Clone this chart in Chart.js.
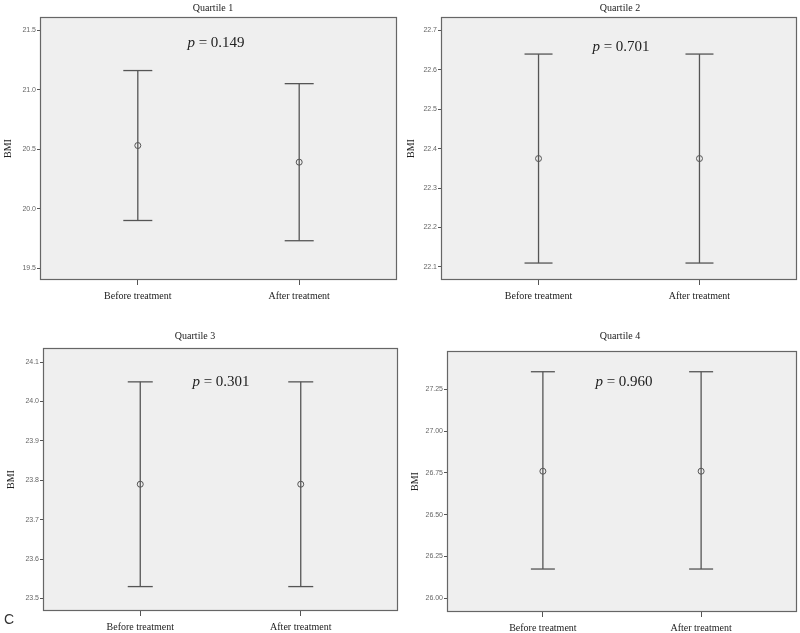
<!DOCTYPE html>
<html>
<head>
<meta charset="utf-8">
<script src="https://cdn.jsdelivr.net/npm/chart.js@4.4.1/dist/chart.umd.min.js"></script>
<style>
  html, body { margin: 0; padding: 0; background: #fff; }
  #wrap { position: relative; width: 800px; height: 633px; overflow: hidden; }
  .panel { position: absolute; }
  #tag { position: absolute; left: 4px; top: 611px; font: 14px "Liberation Sans", Arial, sans-serif; color: #333; }
</style>
</head>
<body>
<div id="wrap">
  <div class="panel" style="left:0;top:0;width:400px;height:310px"><canvas id="q1"></canvas></div>
  <div class="panel" style="left:400px;top:0;width:400px;height:310px"><canvas id="q2"></canvas></div>
  <div class="panel" style="left:0;top:310px;width:400px;height:323px"><canvas id="q3"></canvas></div>
  <div class="panel" style="left:400px;top:310px;width:400px;height:323px"><canvas id="q4"></canvas></div>
  <div id="tag">C</div>
</div>
<script>
// groups on the x axis
const groups = ["Before treatment", "After treatment"];

// BMI mean with lower / upper error-bar ends, per quartile
const q1Mean = [20.53, 20.39];
const q1Lower = [19.90, 19.73];
const q1Upper = [21.16, 21.05];

const q2Mean = [22.375, 22.375];
const q2Lower = [22.11, 22.11];
const q2Upper = [22.64, 22.64];

const q3Mean = [23.79, 23.79];
const q3Lower = [23.53, 23.53];
const q3Upper = [24.05, 24.05];

const q4Mean = [26.76, 26.76];
const q4Lower = [26.175, 26.175];
const q4Upper = [27.355, 27.355];

// y tick labels
const q1Ticks = [19.5, 20.0, 20.5, 21.0, 21.5];
const q2Ticks = [22.1, 22.2, 22.3, 22.4, 22.5, 22.6, 22.7];
const q3Ticks = [23.5, 23.6, 23.7, 23.8, 23.9, 24.0, 24.1];
const q4Ticks = [26.00, 26.25, 26.50, 26.75, 27.00, 27.25];

const titles = ["Quartile 1", "Quartile 2", "Quartile 3", "Quartile 4"];
const pValues = ["0.149", "0.701", "0.301", "0.960"];

const lineColor = "#555";
const serif = '"Liberation Serif", "Times New Roman", serif';

// panel frame + titles + p text
const framePlugin = {
  id: "frame",
  beforeDraw(chart, args, opts) {
    const a = chart.chartArea, ctx = chart.ctx;
    ctx.save();
    ctx.fillStyle = "#efefef";
    ctx.fillRect(a.left, a.top, a.right - a.left, a.bottom - a.top);
    ctx.restore();
  },
  afterDraw(chart, args, opts) {
    const a = chart.chartArea, ctx = chart.ctx;
    ctx.save();
    ctx.strokeStyle = "#666";
    ctx.lineWidth = 1.2;
    ctx.strokeRect(a.left + 0.5, a.top + 0.5, a.right - a.left - 1, a.bottom - a.top - 1);
    ctx.fillStyle = "#222";
    ctx.textAlign = "center";
    ctx.textBaseline = "middle";
    ctx.font = "10px " + serif;
    ctx.fillText(opts.title, opts.titleX, opts.titleY);
    // p value, italic p
    const rest = " = " + opts.p;
    ctx.font = "italic 15px " + serif;
    const wp = ctx.measureText("p").width;
    ctx.font = "15px " + serif;
    const wr = ctx.measureText(rest).width;
    const x0 = opts.pX - (wp + wr) / 2;
    ctx.textAlign = "left";
    ctx.font = "italic 15px " + serif;
    ctx.fillText("p", x0, opts.pY);
    ctx.font = "15px " + serif;
    ctx.fillText(rest, x0 + wp, opts.pY);
    // BMI label
    ctx.translate(opts.bmiX, (a.top + a.bottom) / 2);
    ctx.rotate(-Math.PI / 2);
    ctx.textAlign = "center";
    ctx.font = "10px " + serif;
    ctx.fillText("BMI", 0, 0);
    ctx.restore();
  }
};

function makePanel(id, cfg) {
  const whiskers = groups.map((g, i) => ({
    type: "scatter",
    data: [{ x: i, y: cfg.lower[i] }, { x: i, y: cfg.upper[i] }],
    showLine: true,
    borderColor: lineColor,
    borderWidth: 1.3,
    pointRadius: 0
  }));
  const caps = {
    type: "scatter",
    data: groups.flatMap((g, i) => [{ x: i, y: cfg.lower[i] }, { x: i, y: cfg.upper[i] }]),
    pointStyle: "line",
    pointRadius: cfg.cap,
    pointBorderWidth: 1.3,
    borderColor: lineColor,
    showLine: false
  };
  const means = {
    type: "scatter",
    data: groups.map((g, i) => ({ x: i, y: cfg.mean[i] })),
    pointStyle: "circle",
    pointRadius: 3,
    pointBorderWidth: 1,
    borderColor: lineColor,
    backgroundColor: "rgba(0,0,0,0)",
    showLine: false
  };
  return new Chart(document.getElementById(id), {
    type: "scatter",
    data: { datasets: [...whiskers, caps, means] },
    plugins: [framePlugin],
    options: {
      responsive: true,
      maintainAspectRatio: false,
      animation: false,
      events: [],
      layout: { autoPadding: false, padding: { left: 0, top: cfg.padTop, right: cfg.padRight, bottom: 0 } },
      plugins: {
        legend: { display: false },
        tooltip: { enabled: false },
        frame: cfg.frame
      },
      scales: {
        x: {
          type: "linear",
          min: -0.606,
          max: 1.606,
          afterBuildTicks: s => { s.ticks = groups.map((g, i) => ({ value: i })); },
          afterFit: s => { s.height = cfg.xHeight; s.paddingLeft = 0; s.paddingRight = 0; },
          ticks: {
            autoSkip: false,
            maxRotation: 0,
            padding: 5,
            color: "#222",
            font: { family: serif, size: 10 },
            callback: v => groups[v]
          },
          grid: { drawOnChartArea: false, drawTicks: true, tickLength: 5, color: lineColor },
          border: { display: false }
        },
        y: {
          min: cfg.yMin,
          max: cfg.yMax,
          afterBuildTicks: s => { s.ticks = cfg.ticks.map(v => ({ value: v })); },
          afterFit: s => { s.width = cfg.yWidth; s.paddingTop = 0; s.paddingBottom = 0; },
          ticks: {
            autoSkip: false,
            padding: 1,
            color: "#666",
            font: { family: '"Liberation Sans", Arial, sans-serif', size: 7 },
            callback: v => v.toFixed(cfg.dec)
          },
          grid: { drawOnChartArea: false, drawTicks: true, tickLength: 3, color: lineColor },
          border: { display: false }
        }
      }
    }
  });
}

makePanel("q1", {
  mean: q1Mean, lower: q1Lower, upper: q1Upper, ticks: q1Ticks, dec: 1,
  yMin: 19.40, yMax: 21.61, cap: 14.5,
  padTop: 17, padRight: 3, yWidth: 40, xHeight: 30,
  frame: { title: titles[0], titleX: 213, titleY: 8, p: pValues[0], pX: 216, pY: 43, bmiX: 8 }
});
makePanel("q2", {
  mean: q2Mean, lower: q2Lower, upper: q2Upper, ticks: q2Ticks, dec: 1,
  yMin: 22.067, yMax: 22.734, cap: 14,
  padTop: 17, padRight: 3, yWidth: 41, xHeight: 30,
  frame: { title: titles[1], titleX: 220, titleY: 8, p: pValues[1], pX: 221, pY: 47, bmiX: 11 }
});
makePanel("q3", {
  mean: q3Mean, lower: q3Lower, upper: q3Upper, ticks: q3Ticks, dec: 1,
  yMin: 23.468, yMax: 24.136, cap: 12.5,
  padTop: 38, padRight: 2, yWidth: 43, xHeight: 22,
  frame: { title: titles[2], titleX: 195, titleY: 26, p: pValues[2], pX: 221, pY: 72, bmiX: 11 }
});
makePanel("q4", {
  mean: q4Mean, lower: q4Lower, upper: q4Upper, ticks: q4Ticks, dec: 2,
  yMin: 25.918, yMax: 27.479, cap: 12,
  padTop: 41, padRight: 3, yWidth: 47, xHeight: 21,
  frame: { title: titles[3], titleX: 220, titleY: 26, p: pValues[3], pX: 224, pY: 72, bmiX: 15 }
});
</script>
</body>
</html>
